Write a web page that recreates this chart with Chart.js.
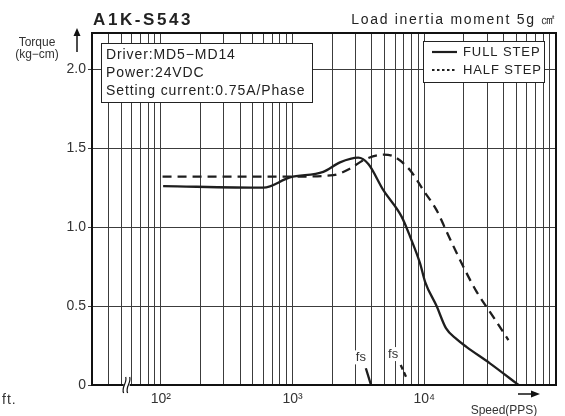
<!DOCTYPE html>
<html>
<head>
<meta charset="utf-8">
<script src="https://cdn.jsdelivr.net/npm/chart.js@4.4.1/dist/chart.umd.min.js"></script>
<style>
html, body { margin: 0; padding: 0; background: #fff; }
#wrap { width: 565px; height: 416px; position: relative; }
</style>
</head>
<body>
<div id="wrap"><canvas id="torqueChart" width="565" height="416"></canvas></div>
<script>
// curve data (speed in PPS, torque in kg-cm)
const fullSpeed  = [104, 600, 955, 1710, 2290, 3150, 3760, 4890, 6740, 7800, 9290, 10140, 12400, 14600, 17600, 21000, 31500, 52000];
const fullTorque = [1.26, 1.25, 1.315, 1.35, 1.41, 1.44, 1.40, 1.234, 1.065, 0.94, 0.77, 0.654, 0.50, 0.36, 0.29, 0.24, 0.137, 0.0];

const halfSpeed  = [103, 955, 2040, 2730, 3440, 4890, 5820, 7800, 9840, 12400, 14800, 19800, 25000, 33400, 43500];
const halfTorque = [1.32, 1.32, 1.33, 1.37, 1.424, 1.46, 1.449, 1.361, 1.234, 1.108, 0.97, 0.749, 0.59, 0.432, 0.285];

// short "fs" marks near the bottom
const fsFullSpeed  = [3600, 3940];
const fsFullTorque = [0.106, 0];
const fsHalfSpeed  = [6620, 7350];
const fsHalfTorque = [0.127, 0.042];
const fsLabelSpeed  = [3300, 5800];
const fsLabelTorque = [0.175, 0.196];

// axis ticks
const decades = [10, 100, 1000, 10000];
const gridSpeeds = [];
decades.forEach(d => {
    for (let m = 1; m <= 9; m++) {
        const v = d * m;
        if (v >= 40) gridSpeeds.push(v);
    }
});
gridSpeeds.push(100000);
const speedLabels = { 100: '10\u00B2', 1000: '10\u00B3', 10000: '10\u2074' };
const torqueTicks = [0, 0.5, 1.0, 1.5, 2.0];

const infoLines = ['Driver:MD5\u2212MD14', 'Power:24VDC', 'Setting current:0.75A/Phase'];

function toPoints(xs, ys) {
    return xs.map((x, i) => ({ x: x, y: ys[i] }));
}

const ink = '#1e1e1e';

const decorPlugin = {
    id: 'decor',
    afterDatasetsDraw(chart) {
        const ctx = chart.ctx;
        const a = chart.chartArea;
        const xs = chart.scales.x, ys = chart.scales.y;
        ctx.save();

        // fs labels
        ctx.font = '13px "Liberation Sans"';
        ctx.textAlign = 'center';
        ctx.textBaseline = 'middle';
        fsLabelSpeed.forEach((s, i) => {
            const px = xs.getPixelForValue(s), py = ys.getPixelForValue(fsLabelTorque[i]);
            ctx.fillStyle = '#fff';
            ctx.fillRect(px - 7, py - 7, 14, 14);
            ctx.fillStyle = '#333';
            ctx.fillText('fs', px, py);
        });

        // frame
        ctx.strokeStyle = '#111';
        ctx.lineWidth = 2;
        ctx.strokeRect(a.left, a.top, a.right - a.left, a.bottom - a.top);

        // axis break
        const bx = xs.getPixelForValue(55);
        ctx.fillStyle = '#fff';
        ctx.fillRect(bx - 3, a.bottom - 3, 6, 6);
        ctx.strokeStyle = '#111';
        ctx.lineWidth = 1.2;
        [-2, 2].forEach(off => {
            ctx.beginPath();
            ctx.moveTo(bx + off - 1, a.bottom + 8);
            ctx.bezierCurveTo(bx + off - 4, a.bottom + 2, bx + off + 3, a.bottom - 2, bx + off + 1, a.bottom - 8);
            ctx.stroke();
        });

        // info box
        ctx.fillStyle = '#fff';
        ctx.fillRect(101, 43, 212, 60);
        ctx.strokeStyle = '#222';
        ctx.lineWidth = 1;
        ctx.strokeRect(101.5, 43.5, 211, 59);
        ctx.fillStyle = '#222';
        ctx.font = '14px "Liberation Sans"';
        ctx.textAlign = 'left';
        ctx.textBaseline = 'middle';
        ctx.letterSpacing = '0.9px';
        infoLines.forEach((t, i) => ctx.fillText(t, 106, 55 + i * 18));

        // legend
        ctx.fillStyle = '#fff';
        ctx.fillRect(423, 41, 122, 42);
        ctx.strokeRect(423.5, 41.5, 121, 41);
        ctx.strokeStyle = ink;
        ctx.lineWidth = 2.2;
        ctx.beginPath();
        ctx.moveTo(432, 52); ctx.lineTo(457, 52);
        ctx.stroke();
        ctx.setLineDash([2.5, 2.5]);
        ctx.beginPath();
        ctx.moveTo(432, 70); ctx.lineTo(457, 70);
        ctx.stroke();
        ctx.setLineDash([]);
        ctx.fillStyle = '#222';
        ctx.font = '13px "Liberation Sans"';
        ctx.letterSpacing = '0.9px';
        ctx.fillText('FULL STEP', 463, 52);
        ctx.fillText('HALF STEP', 463, 70);
        ctx.restore();
    },
    afterDraw(chart) {
        const ctx = chart.ctx;
        const a = chart.chartArea;
        ctx.save();
        ctx.fillStyle = '#222';
        ctx.textBaseline = 'alphabetic';

        // title
        ctx.font = 'bold 17px "Liberation Sans"';
        ctx.letterSpacing = '2.6px';
        ctx.textAlign = 'left';
        ctx.fillText('A1K-S543', 93, 25);

        ctx.font = '14px "Liberation Sans"';
        ctx.letterSpacing = '1.7px';
        ctx.textAlign = 'right';
        ctx.fillText('Load inertia moment 5g \u33A0', a.right + 1, 24);

        // y axis label + arrow
        ctx.letterSpacing = '0px';
        ctx.font = '12px "Liberation Sans"';
        ctx.textAlign = 'center';
        ctx.fillStyle = '#333';
        ctx.fillText('Torque', 37, 46);
        ctx.fillText('(kg\u2212cm)', 37, 58);

        ctx.strokeStyle = '#111';
        ctx.fillStyle = '#111';
        ctx.lineWidth = 1.5;
        ctx.beginPath();
        ctx.moveTo(77, 52); ctx.lineTo(77, 33);
        ctx.stroke();
        ctx.beginPath();
        ctx.moveTo(77, 28); ctx.lineTo(73.5, 36); ctx.lineTo(80.5, 36); ctx.closePath();
        ctx.fill();

        // x axis label + arrow
        ctx.beginPath();
        ctx.moveTo(518, 394); ctx.lineTo(534, 394);
        ctx.stroke();
        ctx.beginPath();
        ctx.moveTo(540, 394); ctx.lineTo(531, 390.5); ctx.lineTo(531, 397.5); ctx.closePath();
        ctx.fill();
        ctx.fillStyle = '#333';
        ctx.font = '12px "Liberation Sans"';
        ctx.fillText('Speed(PPS)', 504, 414);

        // clipped text at the left edge
        ctx.font = '14px "Liberation Sans"';
        ctx.textAlign = 'left';
        ctx.letterSpacing = '1px';
        ctx.fillText('ft.', 2, 404);
        ctx.restore();
    }
};

const lineBase = {
    borderColor: ink,
    borderWidth: 2.3,
    pointRadius: 0,
    fill: false,
    cubicInterpolationMode: 'monotone'
};

new Chart(document.getElementById('torqueChart').getContext('2d'), {
    type: 'line',
    data: {
        datasets: [
            Object.assign({ label: 'FULL STEP', data: toPoints(fullSpeed, fullTorque) }, lineBase),
            Object.assign({ label: 'HALF STEP', data: toPoints(halfSpeed, halfTorque), borderDash: [9, 6] }, lineBase),
            Object.assign({ label: 'fs full', data: toPoints(fsFullSpeed, fsFullTorque) }, lineBase),
            Object.assign({ label: 'fs half', data: toPoints(fsHalfSpeed, fsHalfTorque), borderDash: [5, 3] }, lineBase)
        ]
    },
    options: {
        responsive: false,
        animation: false,
        layout: { padding: { left: 0, top: 33, right: 9, bottom: 0 } },
        plugins: {
            legend: { display: false },
            tooltip: { enabled: false }
        },
        scales: {
            x: {
                type: 'logarithmic',
                min: 30,
                max: 100000,
                afterBuildTicks: s => { s.ticks = gridSpeeds.map(v => ({ value: v })); },
                afterFit: s => { s.height = 31; },
                grid: { color: '#3c3c3c', lineWidth: 1, drawTicks: false },
                border: { display: false },
                ticks: {
                    autoSkip: false,
                    maxRotation: 0,
                    padding: 6,
                    color: '#333',
                    font: { family: 'Liberation Sans', size: 14 },
                    callback: v => speedLabels[v] || ''
                }
            },
            y: {
                min: 0,
                max: 2.23,
                afterBuildTicks: s => { s.ticks = torqueTicks.map(v => ({ value: v })); },
                afterFit: s => { s.width = 92; },
                grid: { color: '#3c3c3c', lineWidth: 1, tickLength: 4 },
                border: { display: false },
                ticks: {
                    padding: 2,
                    color: '#333',
                    font: { family: 'Liberation Sans', size: 14 },
                    callback: v => v === 0 ? '0' : v.toFixed(1)
                }
            }
        }
    },
    plugins: [decorPlugin]
});
</script>
</body>
</html>
